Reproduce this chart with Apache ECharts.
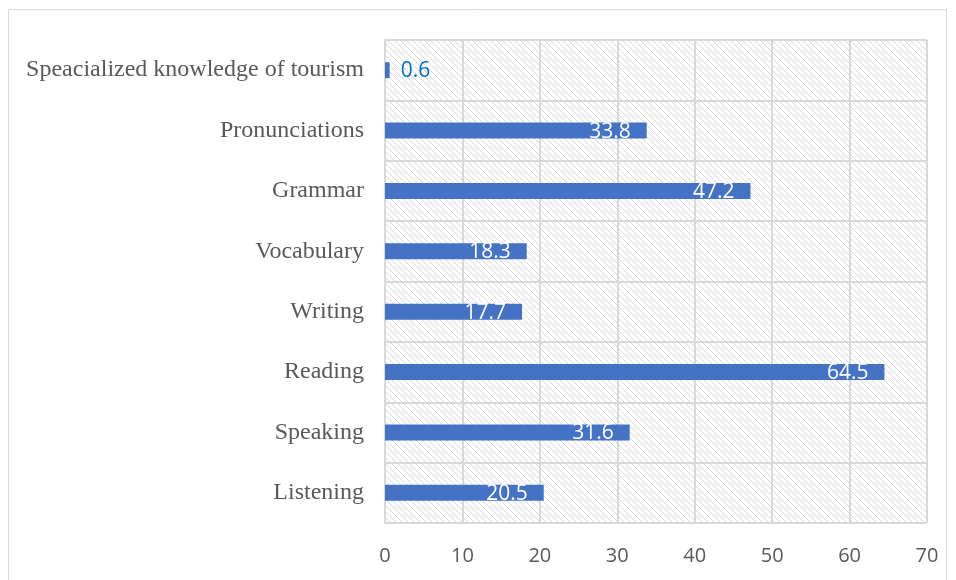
<!DOCTYPE html>
<html><head><meta charset="utf-8">
<script src="https://cdn.jsdelivr.net/npm/echarts@6/dist/echarts.min.js"></script>
<style>html,body{margin:0;padding:0;background:#fff}#c{width:956px;height:580px}</style>
</head><body><div id="c"></div>
<script>
var categories = ['Listening','Speaking','Reading','Writing','Vocabulary','Grammar','Pronunciations','Speacialized knowledge of tourism'];
var values = [20.5, 31.6, 64.5, 17.7, 18.3, 47.2, 33.8, 0.6];
var xTicks = [0,10,20,30,40,50,60,70];

var pc = document.createElement('canvas');
pc.width = 6; pc.height = 6;
var g = pc.getContext('2d');
g.strokeStyle = '#d8d8d8'; g.lineWidth = 1;
g.beginPath(); g.moveTo(0,0); g.lineTo(6,6); g.stroke();
g.beginPath(); g.moveTo(-6,0); g.lineTo(0,6); g.stroke();
g.beginPath(); g.moveTo(6,0); g.lineTo(12,6); g.stroke();

var chart = echarts.init(document.getElementById('c'));
chart.setOption({
  animation:false,
  graphic:[{type:'rect', shape:{x:8.5,y:9.5,width:938,height:600}, style:{fill:'none',stroke:'#d9d9d9',lineWidth:1}, z:-10}],
  grid:{left:385,right:29,top:40,bottom:57,show:true,backgroundColor:{image:pc,repeat:'repeat'},borderWidth:0},
  xAxis:{type:'value',min:0,max:70,interval:10,
    axisLine:{show:false},axisTick:{show:false},
    splitLine:{lineStyle:{color:'#d9d9d9',width:2}},
    axisLabel:{color:'#595959',fontSize:20,fontFamily:'Open Sans',margin:23,formatter:function(v){return xTicks.indexOf(v)>=0?String(v):'';}}},
  yAxis:{type:'category',data:categories,
    axisLine:{show:true,lineStyle:{color:'#d9d9d9',width:2}},axisTick:{show:false},
    splitLine:{show:true,lineStyle:{color:'#d9d9d9',width:2}},
    axisLabel:{color:'#595959',fontSize:24,fontFamily:'Liberation Serif',margin:21}},
  series:[{type:'bar',barWidth:16,
    data:values.map(function(v){
      if(v<5) return {value:v,label:{position:'right',color:'#0070C0',distance:11}};
      return v;}),
    itemStyle:{color:'#4472C4'},
    label:{show:true,position:'insideRight',color:'#fff',fontSize:21,fontFamily:'Open Sans',distance:16,offset:[0,1]}
  }]
});
</script></body></html>
